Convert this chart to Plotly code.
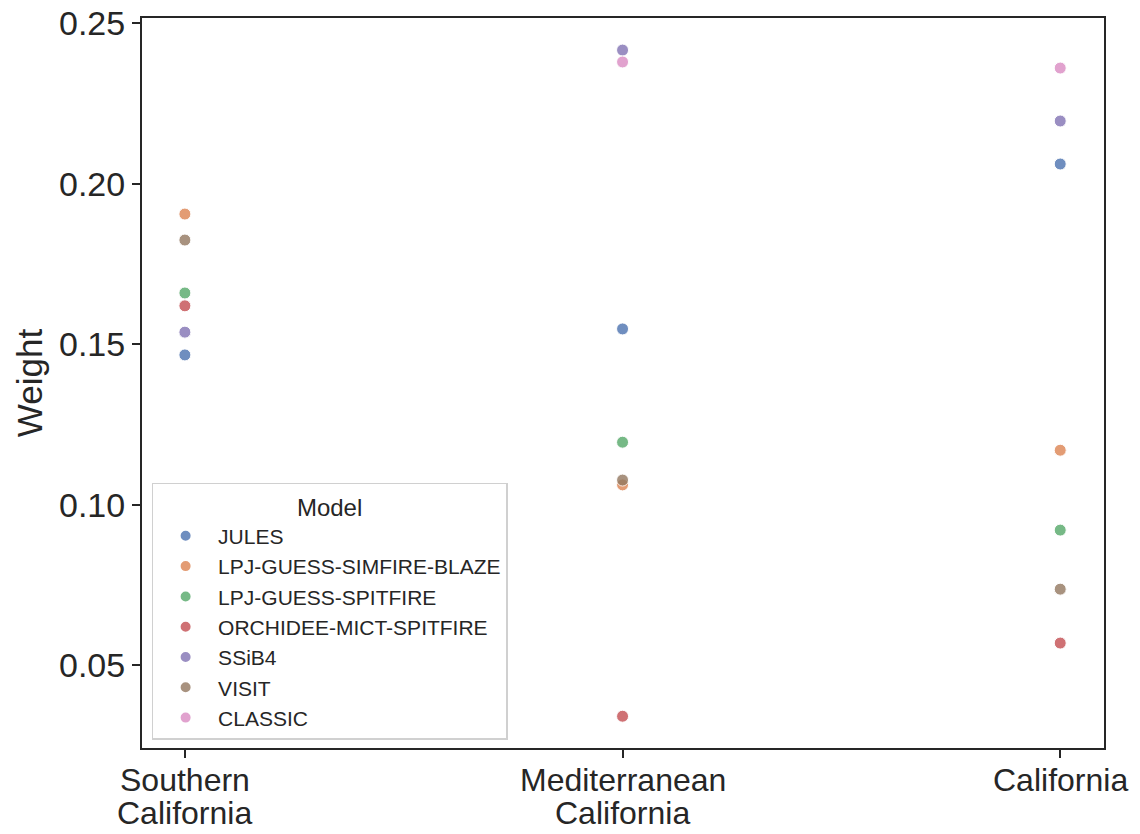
import plotly.graph_objects as go

regions = ["Southern California", "Mediterranean California", "California"]
region_lines = [["Southern", "California"], ["Mediterranean", "California"], ["California"]]
models = ["JULES", "LPJ-GUESS-SIMFIRE-BLAZE", "LPJ-GUESS-SPITFIRE",
          "ORCHIDEE-MICT-SPITFIRE", "SSiB4", "VISIT", "CLASSIC"]
colors = ["#4C72B0", "#DD8452", "#55A868", "#C44E52", "#8172B3", "#937860", "#DA8BC3"]

# weight per model, one value per region (None = model not available)
w_jules = [0.1467, 0.1548, 0.2062]
w_lpj_blaze = [0.1906, 0.1062, 0.1170]
w_lpj_spitfire = [0.1660, 0.1195, 0.0921]
w_orchidee = [0.1620, 0.0341, 0.0569]
w_ssib4 = [0.1538, 0.2417, 0.2196]
w_visit = [0.1825, 0.1077, 0.0737]
w_classic = [None, 0.2380, 0.2361]

weights = [w_jules, w_lpj_blaze, w_lpj_spitfire, w_orchidee, w_ssib4, w_visit, w_classic]

fig = go.Figure()
for name, col, vals in zip(models, colors, weights):
    xs = [r for r, v in zip(regions, vals) if v is not None]
    ys = [v for v in vals if v is not None]
    fig.add_trace(go.Scatter(
        x=xs, y=ys, mode="markers", name=name,
        marker=dict(size=12, color=col, opacity=0.8,
                    line=dict(width=1, color="white")),
    ))

font_family = "Liberation Sans, Arial, sans-serif"
ink = "#262626"

# category labels, one text per line for tighter line spacing
for region, lines in zip(regions, region_lines):
    for i, line in enumerate(lines):
        fig.add_annotation(
            x=region, xref="x", y=0, yref="paper",
            text=line, showarrow=False, xanchor="center", yanchor="middle",
            yshift=-32 - 33 * i, font=dict(size=32, color=ink),
        )

fig.update_layout(
    width=1140, height=834,
    margin=dict(l=142, r=36, t=18, b=86),
    paper_bgcolor="white", plot_bgcolor="white",
    font=dict(family=font_family, color=ink),
    xaxis=dict(
        type="category", categoryorder="array", categoryarray=regions,
        range=[-0.098, 2.1], showgrid=False, zeroline=False, automargin=False,
        showline=True, linecolor=ink, linewidth=2, mirror=True,
        ticks="outside", ticklen=8, tickwidth=1.5, tickcolor=ink,
        showticklabels=False,
    ),
    yaxis=dict(
        range=[0.0242, 0.2517], showgrid=False, zeroline=False, automargin=False,
        tickvals=[0.05, 0.10, 0.15, 0.20, 0.25], tickformat=".2f",
        showline=True, linecolor=ink, linewidth=2, mirror=True,
        ticks="outside", ticklen=8, tickwidth=1.5, tickcolor=ink,
        tickfont=dict(size=34, color=ink),
        title=dict(text="Weight", font=dict(size=35, color=ink), standoff=6),
    ),
    legend=dict(
        x=0.01, y=0.011, xanchor="left", yanchor="bottom",
        bgcolor="rgba(255,255,255,0.8)", bordercolor="#d0d0d0", borderwidth=1.5,
        font=dict(size=21, color=ink),
        title=dict(text="Model", side="top center", font=dict(size=24, color=ink)),
        itemsizing="constant", itemwidth=55,
    ),
    showlegend=True,
)

fig.write_html("out.html")
